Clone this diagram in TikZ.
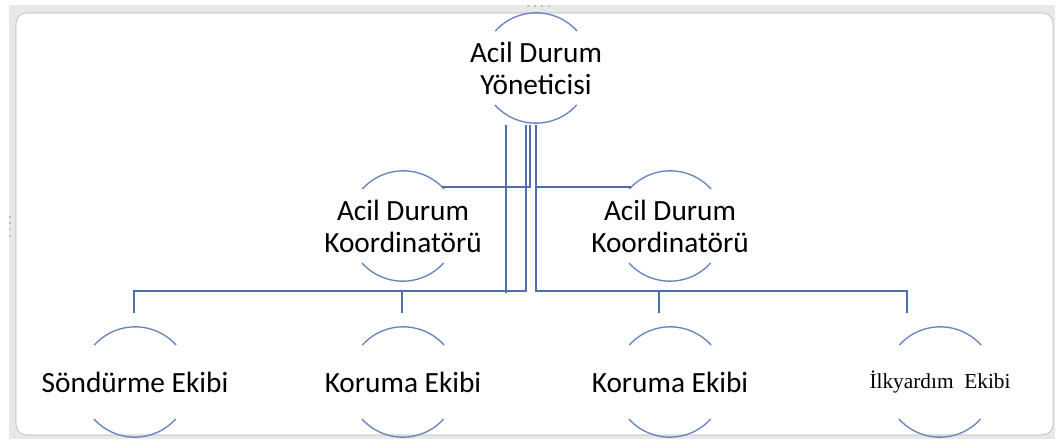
\documentclass[tikz,border=0pt]{standalone}
\usepackage{fontspec}
\setmainfont{Carlito}
\newfontfamily\timesfont{Liberation Serif}
\definecolor{linkblue}{RGB}{79,110,172}
\definecolor{ringblue}{RGB}{102,132,192}
\definecolor{framegray}{RGB}{232,232,232}
\tikzset{
  ring/.style={circle, minimum size=82.5pt, inner sep=0pt},
  lbl/.style={align=center, inner sep=0pt, font=\fontsize{22}{24}\selectfont},
  link/.style={draw=linkblue, line width=1.1pt},
  arcline/.style={draw=ringblue, line width=1pt},
}
\begin{document}
\begin{tikzpicture}[x=0.75pt, y=0.75pt]
    \useasboundingbox (0,0) rectangle (1056,439) ;
    \fill[framegray] (9,0) rectangle (1055,434) ;
    \draw[fill=white, draw=gray!60, rounded corners=8] (16,4) rectangle (1053,426) ;
    \foreach \x in {528,535,542,549} \fill[gray!70] (\x,433) circle (1) ;
    \foreach \y in {222,216,210,203} \fill[gray!70] (10,\y) circle (1) ;
    % circles with their labels
    \node[ring, label={[lbl]center:Acil Durum\\Yöneticisi}] (yon) at (536,371) {} ;
    \node[ring, label={[lbl]center:Acil Durum\\Koordinatörü}] (koorL) at (403,213) {} ;
    \node[ring, label={[lbl]center:Acil Durum\\Koordinatörü}] (koorR) at (670,213) {} ;
    \node[ring, label={[lbl]center:Söndürme Ekibi}] (sond) at (135,57) {} ;
    \node[ring, label={[lbl]center:Koruma Ekibi}] (korA) at (403,57) {} ;
    \node[ring, label={[lbl]center:Koruma Ekibi}] (korB) at (670,57) {} ;
    \node[ring, label={[lbl, font=\timesfont\fontsize{16}{18}\selectfont]center:İlkyardım\ \ Ekibi}] (ilk) at (940,57) {} ;
    \foreach \n in {yon,koorL,koorR,sond,korA,korB,ilk} {
      \draw[arcline] (\n.42) arc (42:138:55) ;
      \draw[arcline] (\n.222) arc (222:318:55) ;
    }
    % buses and drops
    \coordinate (busL) at (134,148) ;
    \coordinate (busR) at (907,148) ;
    \coordinate (dropS) at ([shift={(-1,14)}]sond.north) ;
    \coordinate (dropA) at ([shift={(-1,14)}]korA.north) ;
    \coordinate (dropB) at ([shift={(-11,14)}]korB.north) ;
    \coordinate (dropI) at ([shift={(-33,14)}]ilk.north) ;
    \draw[link] ([shift={(-30,-2)}]yon.south) -- ([shift={(-30,-2)}]yon.south |- busL) ;
    \draw[link] ([shift={(-10,-2)}]yon.south) |- (busL) -- (dropS) ;
    \draw[link] ([shift={(-6,-2)}]yon.south) |- (koorL.north east) ;
    \draw[link] ([shift={(0,-2)}]yon.south) |- (koorR.north west) ;
    \draw[link] ([shift={(0,-2)}]yon.south) |- (busR) -- (dropI) ;
    \draw[link] (dropA |- busL) -- (dropA) ;
    \draw[link] (dropB |- busR) -- (dropB) ;
  \end{tikzpicture}
\end{document}
